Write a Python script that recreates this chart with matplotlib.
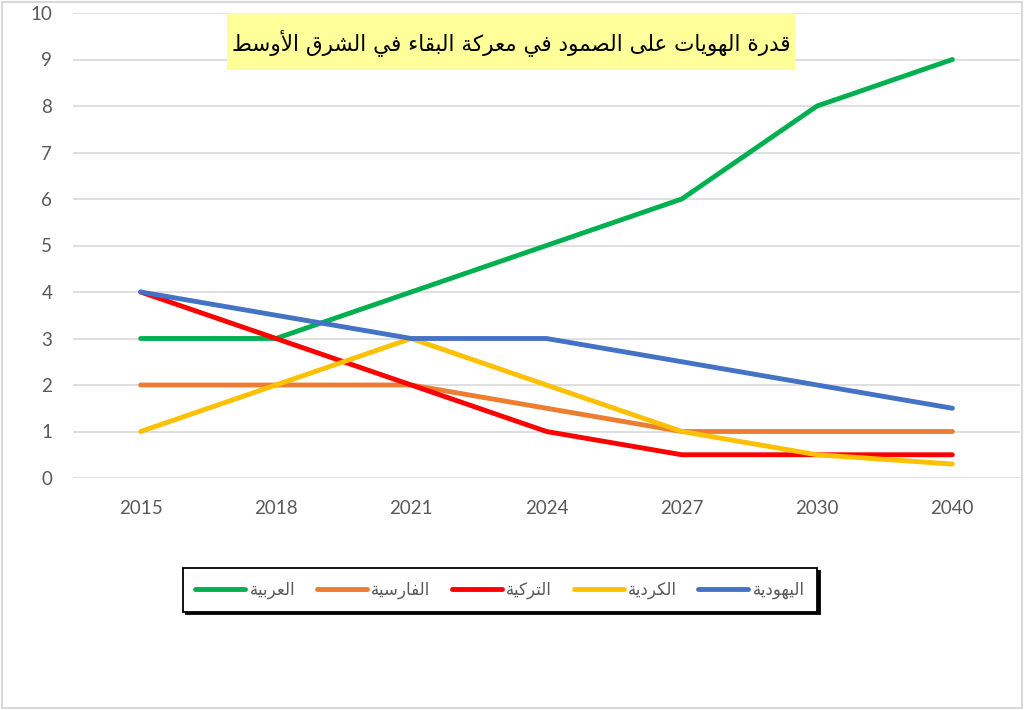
import matplotlib

matplotlib.use("Agg")
import matplotlib.pyplot as plt
from matplotlib.lines import Line2D
from matplotlib.patches import Rectangle

# ── Данные ──
YEARS = ["2015", "2018", "2021", "2024", "2027", "2030", "2040"]
ARABIC = [3, 3, 4, 5, 6, 8, 9]
PERSIAN = [2, 2, 2, 1.5, 1, 1, 1]
TURKISH = [4, 3, 2, 1, 0.5, 0.5, 0.5]
KURDISH = [1, 2, 3, 2, 1, 0.5, 0.3]
JEWISH = [4, 3.5, 3, 3, 2.5, 2, 1.5]

SERIES_NAMES = ["العربية", "الفارسية", "التركية", "الكردية", "اليهودية"]
TITLE = "قدرة الهويات على الصمود في معركة البقاء في الشرق الأوسط"
COLORS = ["#00B050", "#ED7D31", "#FF0000", "#FFC000", "#4472C4"]

# ── Arabic shaping: matplotlib has no complex text layout ──
# letter -> (first presentation form, number of forms: iso, fin, ini, med)
FORMS = {
    "\u0621": (0xFE80, 1), "\u0622": (0xFE81, 2), "\u0623": (0xFE83, 2),
    "\u0624": (0xFE85, 2), "\u0625": (0xFE87, 2), "\u0626": (0xFE89, 4),
    "\u0627": (0xFE8D, 2), "\u0628": (0xFE8F, 4), "\u0629": (0xFE93, 2),
    "\u062A": (0xFE95, 4), "\u062B": (0xFE99, 4), "\u062C": (0xFE9D, 4),
    "\u062D": (0xFEA1, 4), "\u062E": (0xFEA5, 4), "\u062F": (0xFEA9, 2),
    "\u0630": (0xFEAB, 2), "\u0631": (0xFEAD, 2), "\u0632": (0xFEAF, 2),
    "\u0633": (0xFEB1, 4), "\u0634": (0xFEB5, 4), "\u0635": (0xFEB9, 4),
    "\u0636": (0xFEBD, 4), "\u0637": (0xFEC1, 4), "\u0638": (0xFEC5, 4),
    "\u0639": (0xFEC9, 4), "\u063A": (0xFECD, 4), "\u0641": (0xFED1, 4),
    "\u0642": (0xFED5, 4), "\u0643": (0xFED9, 4), "\u0644": (0xFEDD, 4),
    "\u0645": (0xFEE1, 4), "\u0646": (0xFEE5, 4), "\u0647": (0xFEE9, 4),
    "\u0648": (0xFEED, 2), "\u0649": (0xFEEF, 2), "\u064A": (0xFEF1, 4),
}
LAM_ALEF = {"\u0622": 0xFEF5, "\u0623": 0xFEF7, "\u0625": 0xFEF9, "\u0627": 0xFEFB}


def shape(text):
    tokens = []
    i = 0
    while i < len(text):
        ch = text[i]
        if ch == "\u0644" and i + 1 < len(text) and text[i + 1] in LAM_ALEF:
            tokens.append((LAM_ALEF[text[i + 1]], 2))
            i += 2
            continue
        tokens.append(FORMS.get(ch, (ord(ch), 0)))
        i += 1

    out = []
    for k, (base, n) in enumerate(tokens):
        if n == 0:
            out.append(chr(base))
            continue
        prev = k > 0 and tokens[k - 1][1] == 4 and n >= 2
        nxt = n == 4 and k + 1 < len(tokens) and tokens[k + 1][1] >= 2
        if prev and nxt:
            idx = 3
        elif prev:
            idx = 1
        elif nxt:
            idx = 2
        else:
            idx = 0
        out.append(chr(base + idx))
    return "".join(reversed(out))


GRID = "#D9D9D9"
TICK = "#595959"

fig = plt.figure(figsize=(10.24, 7.10), dpi=100)
fig.patch.set_facecolor("white")
ax = fig.add_axes([73 / 1024, 1 - 478 / 710, 947 / 1024, 465 / 710])

x = range(len(YEARS))
for values, color in zip([ARABIC, PERSIAN, TURKISH, KURDISH, JEWISH], COLORS):
    ax.plot(x, values, color=color, linewidth=3.5, solid_capstyle="round",
            solid_joinstyle="round", zorder=3)

ax.set_xlim(-0.5, len(YEARS) - 0.5)
ax.set_ylim(0, 10)
ax.set_yticks(range(0, 11))
ax.set_xticks(list(x))
ax.set_xticklabels(YEARS)
ax.grid(axis="y", color=GRID, linewidth=1.2)
ax.grid(axis="x", visible=False)
ax.set_axisbelow(True)
for s in ax.spines.values():
    s.set_visible(False)
ax.tick_params(axis="both", length=0, labelsize=13.5, labelcolor=TICK, labelfontfamily="Lato")
ax.tick_params(axis="y", pad=15)
ax.tick_params(axis="x", pad=16)

# ── Заголовок в жёлтой рамке ──
fig.patches.append(Rectangle((227 / 1024, 1 - 70 / 710), 568 / 1024, 57 / 710,
                             transform=fig.transFigure, facecolor="#FFFF99",
                             edgecolor="none", zorder=5))
fig.text(511 / 1024, 1 - 43 / 710, shape(TITLE), ha="center", va="center",
         fontsize=15.5, color="black", family="DejaVu Sans", zorder=6)

# ── Легенда ──
handles = [Line2D([], [], color=c, linewidth=3.5, solid_capstyle="round") for c in COLORS]
leg = fig.legend(handles, [shape(n) for n in SERIES_NAMES], loc="center",
                 bbox_to_anchor=(500 / 1024, 1 - 590 / 710), ncol=5,
                 labelcolor=TICK, handlelength=3.0, handletextpad=0.25,
                 columnspacing=1.3, borderpad=0.75, fancybox=False, edgecolor="black",
                 shadow={"color": "black", "alpha": 1},
                 prop={"family": "DejaVu Sans", "size": 12})
leg.get_frame().set_linewidth(1.3)

# ── Рамка области диаграммы ──
fig.patches.append(Rectangle((0.002, 0.003), 0.996, 0.994, transform=fig.transFigure,
                             fill=False, edgecolor=GRID, linewidth=1.5))

fig.savefig("out.png", dpi=100)
plt.close(fig)
